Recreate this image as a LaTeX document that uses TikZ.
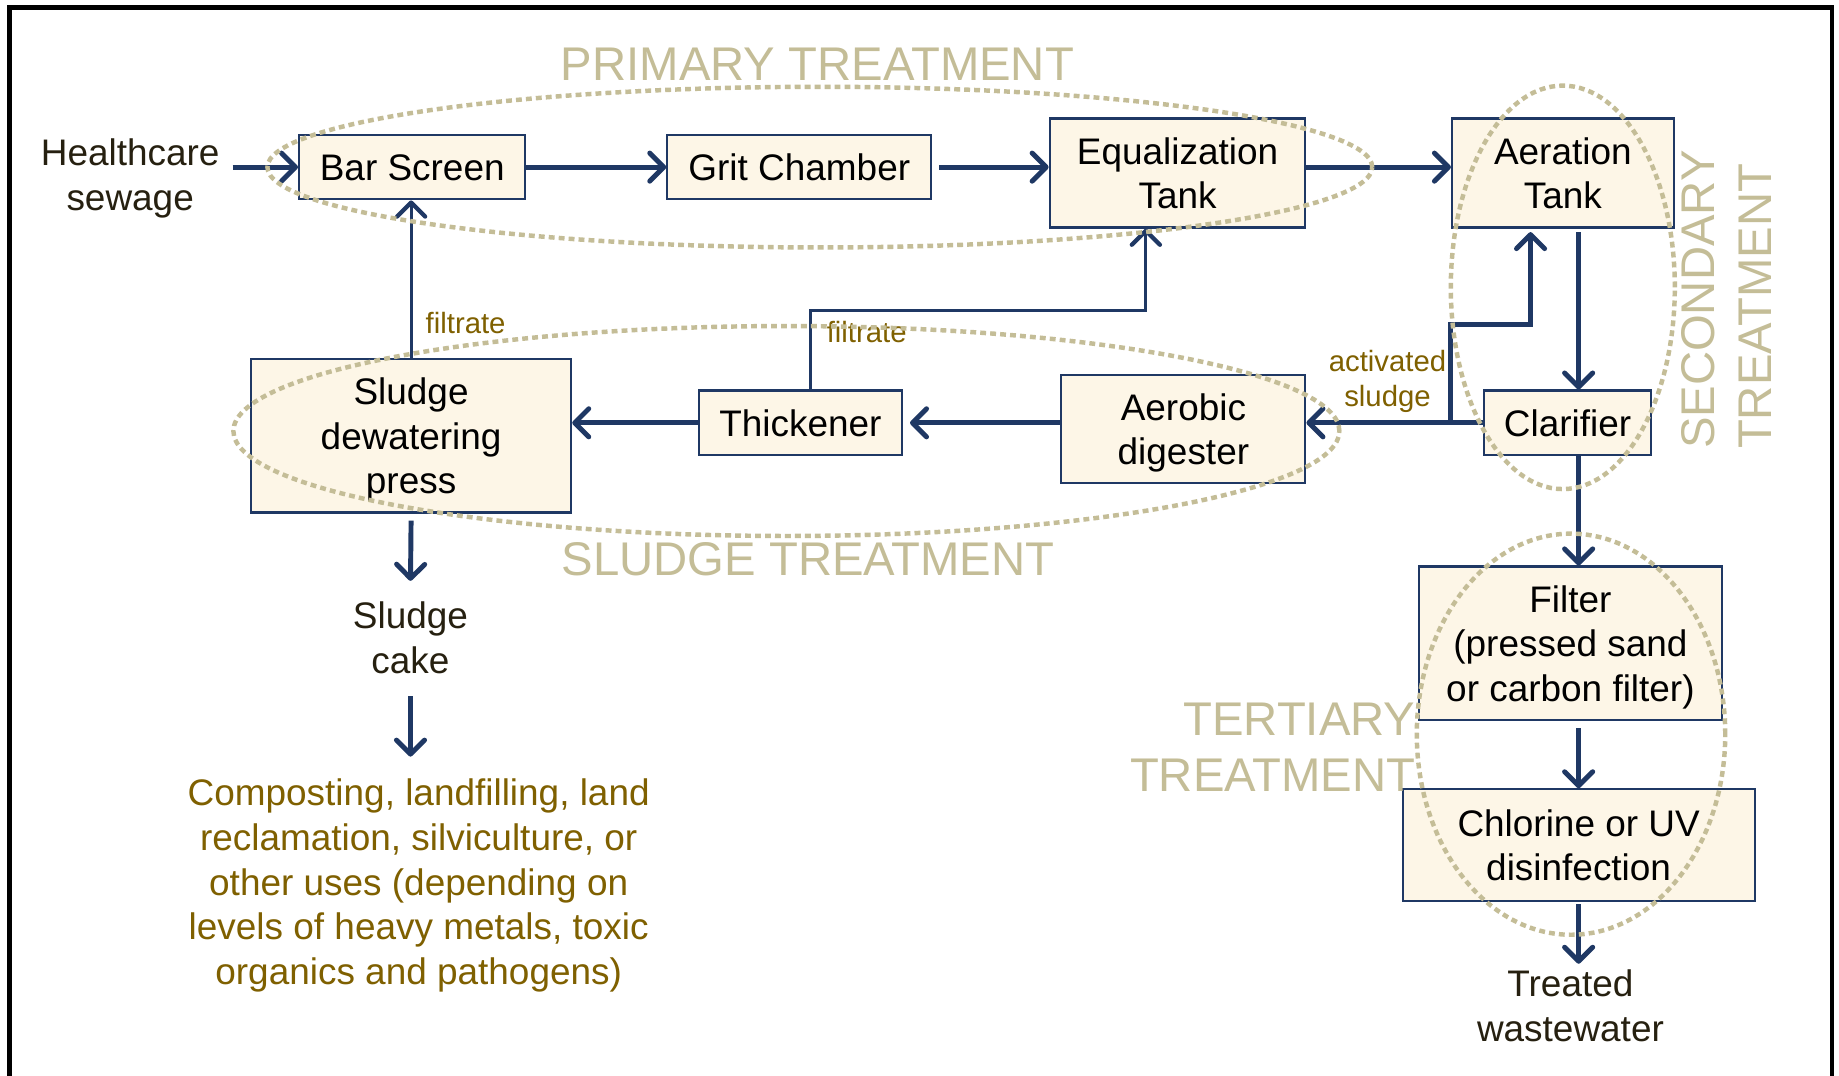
\documentclass[tikz,border=0pt]{standalone}
\usepackage{fontspec}
\setmainfont{Liberation Sans}[Ligatures=NoCommon]
\usetikzlibrary{arrows.meta}
\definecolor{navy}{HTML}{1F3864}
\definecolor{cream}{HTML}{FDF6E7}
\definecolor{tan}{HTML}{C4BD97}
\definecolor{olive}{HTML}{7F6000}
\definecolor{darktxt}{HTML}{262010}
\newcommand\fmain{\fontsize{31.5}{38}\selectfont}
\newcommand\flab{\fontsize{25}{30}\selectfont}
\newcommand\fgrp{\fontsize{40.3}{48}\selectfont}
\begin{document}
\begin{tikzpicture}[x=1pt,y=-1pt,
  box/.style={draw=navy, line width=1.8pt, fill=cream, inner sep=0pt, align=center, font=\fmain, text=black, text depth=0pt},
  free/.style={inner sep=0pt, align=center, font=\fmain, text=darktxt},
  lab/.style={inner sep=0pt, align=center, font=\flab, text=olive},
  grplab/.style={inner sep=0pt, font=\fgrp, text=tan},
  flow/.style={draw=navy, line width=4.2pt, -{Straight Barb[round,length=12pt,width=24pt]}},
  thinflow/.style={draw=navy, line width=2.5pt, -{Straight Barb[round,length=12pt,width=24pt,line width=3.6pt]}},
  grp/.style={draw=tan, line width=3.8pt, dash pattern=on 5pt off 3.5pt}]
\useasboundingbox (0,0) rectangle (1568,917);
\fill[white] (0,0) rectangle (1568,917);
% frame
\draw[black, line width=4pt] (8,960) -- (8,6.5) -- (1562,6.5) -- (1562,960);

% boxes
\node[box, minimum width=193pt, minimum height=55pt] (bar) at (351.5,142.5) {Bar Screen};
\node[box, minimum width=225pt, minimum height=55pt] (grit) at (681.5,142.5) {Grit Chamber};
\node[box, minimum width=218pt, minimum height=93pt] (eq) at (1004,147.5) {Equalization\\Tank};
\node[box, minimum width=189pt, minimum height=93pt] (aer) at (1332.5,147.5) {Aeration\\Tank};
\node[box, minimum width=143pt, minimum height=55pt] (clar) at (1336.5,360.5) {Clarifier};
\node[box, minimum width=208pt, minimum height=92pt] (dig) at (1009,366) {Aerobic\\digester};
\node[box, minimum width=173pt, minimum height=55pt] (thick) at (682.5,360.5) {Thickener};
\node[box, minimum width=273pt, minimum height=131pt] (press) at (350.5,371.5) {Sludge\\dewatering\\press};
\node[box, minimum width=258pt, minimum height=131pt] (filt) at (1339,548.5) {Filter\\(pressed sand\\or carbon filter)};
\node[box, minimum width=300pt, minimum height=95pt] (chl) at (1346,720.5) {Chlorine or UV\\disinfection};

% free texts
\node[free] (health) at (111,152) {Healthcare\\sewage};
\node[free] (cake) at (350,544) {Sludge\\cake};
\node[free, text=olive] (uses) at (357,755) {Composting, landfilling, land\\reclamation, silviculture, or\\other uses (depending on\\levels of heavy metals, toxic\\organics and pathogens)};
\node[free] (treated) at (1339,857.5) {Treated\\wastewater};

% small labels
\node[lab] (f1) at (397,275) {filtrate};
\node[lab] (f2) at (739,283) {filtrate};
\node[lab] (act) at (1183,325) {activated\\sludge};

% group labels
\node[grplab] (prim) at (697,55) {PRIMARY TREATMENT};
\node[grplab] (sludg) at (689,477) {SLUDGE TREATMENT};
\node[grplab, rotate=90, anchor=west, align=left] (sec) at (1472,383) {SECONDARY\\TREATMENT};
\node[grplab, anchor=east, align=right] (tert) at (1207,637) {TERTIARY\\TREATMENT};

% coordinates
\coordinate (vx) at (1346,0);
\coordinate (br) at (1237,360.5);
\coordinate (bk) at (1305,277);
\coordinate (fk) at (977,265);

% connectors
\draw[flow] ([xshift=11pt]health.east |- bar.west) -- (bar.west);
\draw[flow] (bar.east) -- (grit.west);
\draw[flow] ([xshift=6pt]grit.east) -- (grit.east -| eq.west);
\draw[flow] (eq.east |- grit.east) -- (aer.west |- grit.east);
\draw[flow] ([yshift=-3pt]aer.south -| vx) -- (clar.north -| vx);
\draw[flow] (clar.south -| vx) -- (filt.north -| vx);
\draw[flow] ([yshift=-6pt]filt.south -| vx) -- (chl.north -| vx);
\draw[flow] ([yshift=-2pt]chl.south -| vx) -- ([yshift=5pt]treated.north -| vx);
\draw[flow] (clar.west) -- (clar.west -| dig.east);
\draw[flow] (br) |- (bk) -- ([yshift=-3pt]bk |- aer.south);
\draw[flow] (dig.west |- thick.east) -- ([xshift=6pt]thick.east);
\draw[flow] (thick.west) -- (thick.west -| press.east);
\draw[flow] ([yshift=-6pt]press.south) -- ([yshift=18pt]cake.north);
\draw[flow] ([yshift=-19pt]cake.south) -- ([yshift=19pt]uses.north -| cake.south);
\draw[thinflow] (press.north) -- (press.north |- bar.south);
\draw[thinflow] ([xshift=8.5pt]thick.north) |- (fk) -- (fk |- eq.south);

% group ellipses
\draw[grp] (699,142.5) ellipse [x radius=471pt, y radius=68.5pt];
\draw[grp] (670.5,367.5) ellipse [x radius=471.5pt, y radius=89.5pt];
\draw[grp] (1332.5,245) ellipse [x radius=95.5pt, y radius=172pt];
\draw[grp] (1339.5,626) ellipse [x radius=131.5pt, y radius=171pt];
\end{tikzpicture}
\end{document}
